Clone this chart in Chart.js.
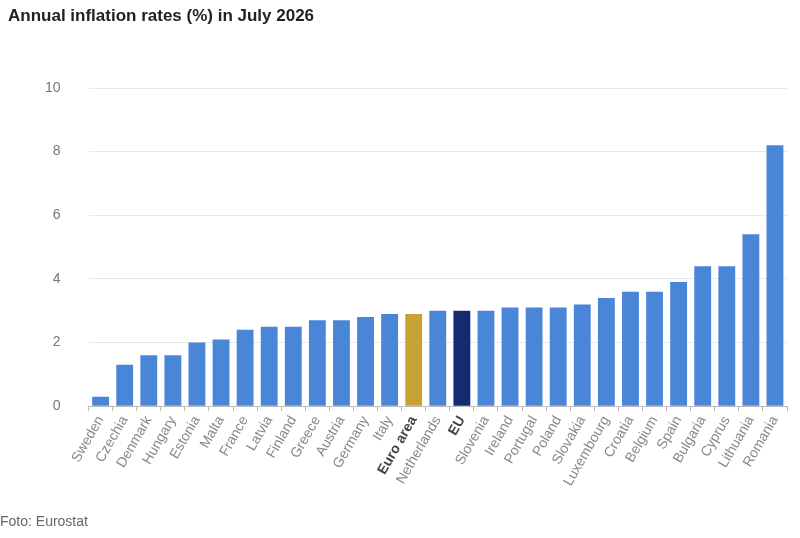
<!DOCTYPE html>
<html lang="en">
<head>
    <meta charset="UTF-8">
    <title>Annual inflation rates (%) in July 2026</title>
    <script src="https://cdn.jsdelivr.net/npm/chart.js"></script>
    <style>
        body {
            margin: 0;
            width: 800px;
            height: 538px;
            position: relative;
            background: #fff;
            font-family: "Liberation Sans", Arial, sans-serif;
            overflow: hidden;
        }
        #title {
            position: absolute;
            left: 8px;
            top: 6px;
            font-size: 17px;
            font-weight: bold;
            color: #222;
        }
        #source {
            position: absolute;
            left: 0;
            top: 513px;
            font-size: 14px;
            color: #666;
        }
        #wrap {
            position: absolute;
            left: 0;
            top: 0;
            width: 800px;
            height: 538px;
        }
    </style>
</head>
<body>
    <div id="wrap"><canvas id="inflationChart"></canvas></div>
    <div id="title">Annual inflation rates (%) in July 2026</div>
    <div id="source">Foto: Eurostat</div>

    <script>
        // Countries sorted by rate, as in the Eurostat release
        const countries = ['Sweden', 'Czechia', 'Denmark', 'Hungary', 'Estonia', 'Malta', 'France',
            'Latvia', 'Finland', 'Greece', 'Austria', 'Germany', 'Italy', 'Euro area', 'Netherlands',
            'EU', 'Slovenia', 'Ireland', 'Portugal', 'Poland', 'Slovakia', 'Luxembourg', 'Croatia',
            'Belgium', 'Spain', 'Bulgaria', 'Cyprus', 'Lithuania', 'Romania'];
        const rates = [0.3, 1.3, 1.6, 1.6, 2.0, 2.1, 2.4,
            2.5, 2.5, 2.7, 2.7, 2.8, 2.9, 2.9, 3.0,
            3.0, 3.0, 3.1, 3.1, 3.1, 3.2, 3.4, 3.6,
            3.6, 3.9, 4.4, 4.4, 5.4, 8.2];
        const yTicks = [0, 2, 4, 6, 8, 10];

        const aggregates = ['Euro area', 'EU'];
        const barColors = countries.map(c =>
            c === 'Euro area' ? '#c6a136' : (c === 'EU' ? '#152b6f' : '#4a86d8'));

        const ctx = document.getElementById('inflationChart').getContext('2d');
        new Chart(ctx, {
            type: 'bar',
            data: {
                labels: countries,
                datasets: [{
                    data: rates,
                    backgroundColor: barColors,
                    categoryPercentage: 1.0,
                    barPercentage: 0.7
                }]
            },
            options: {
                responsive: true,
                maintainAspectRatio: false,
                animation: false,
                layout: {
                    padding: { top: 88, right: 13, bottom: 47, left: 17 }
                },
                plugins: {
                    legend: { display: false },
                    tooltip: { enabled: false }
                },
                scales: {
                    x: {
                        grid: {
                            drawOnChartArea: false,
                            color: '#bbb',
                            tickLength: 5
                        },
                        border: { color: '#bbb' },
                        ticks: {
                            minRotation: 60,
                            maxRotation: 60,
                            autoSkip: false,
                            padding: 2,
                            color: ctx => aggregates.includes(countries[ctx.index]) ? '#444' : '#888',
                            font: ctx => ({
                                family: '"Liberation Sans", Arial, sans-serif',
                                size: 14,
                                weight: aggregates.includes(countries[ctx.index]) ? 'bold' : 'normal'
                            })
                        }
                    },
                    y: {
                        min: 0,
                        max: 10,
                        afterBuildTicks: axis => {
                            axis.ticks = yTicks.map(v => ({ value: v }));
                        },
                        grid: {
                            color: '#e8e8ee',
                            drawTicks: false
                        },
                        border: { display: false },
                        ticks: {
                            padding: 28,
                            color: '#777',
                            font: { family: '"Liberation Sans", Arial, sans-serif', size: 14 }
                        }
                    }
                }
            }
        });
    </script>
</body>
</html>
